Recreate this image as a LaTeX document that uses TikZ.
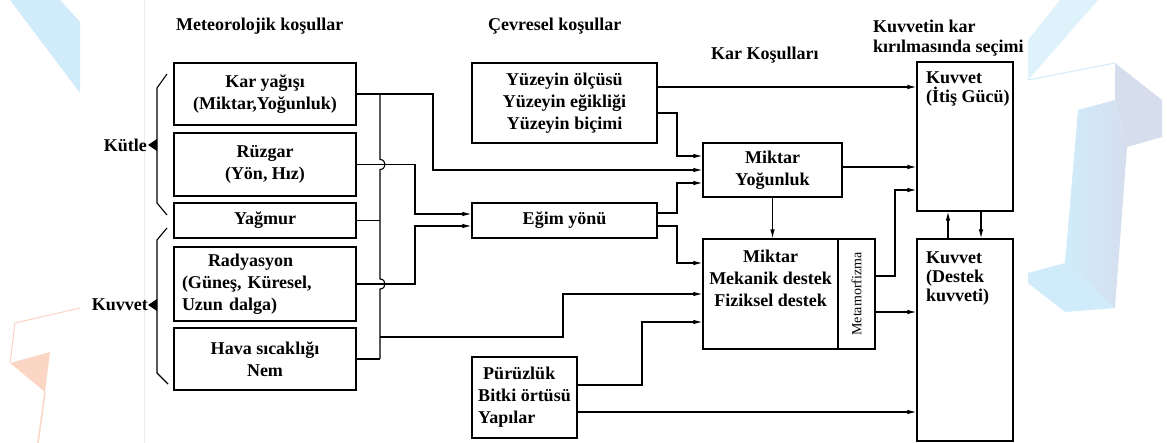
\documentclass[tikz,border=0pt]{standalone}
\usepackage{fontspec}
\usepackage{graphicx}
\setmainfont{Liberation Serif}
\usetikzlibrary{arrows.meta,calc}
\newcommand\bxfont{\fontsize{18}{22}\selectfont\bfseries}
\newcommand\ttlfont{\fontsize{18}{20}\selectfont\bfseries}
\newcommand\kvfont{\fontsize{18}{19}\selectfont\bfseries}
\newcommand\mtfont{\fontsize{14}{14}\selectfont}
\definecolor{wmblue}{RGB}{208,236,250}
\definecolor{wmgray}{RGB}{214,222,238}
\definecolor{wmorange}{RGB}{252,214,196}
\begin{document}
\begin{tikzpicture}[x=1pt,y=-1pt,
  box/.style={draw, line width=1.2pt, inner sep=0pt, font=\bxfont, align=center},
  ttl/.style={inner sep=0pt, font=\ttlfont, align=left},
  ln/.style={line width=1.1pt},
  arr/.style={ln, -{Latex[length=9pt,width=4.5pt]}},
]
\useasboundingbox (0,0) rectangle (1167,443);
\fill[white] (0,0) rectangle (1167,443);
% watermark
\fill[wmblue] (10,0) -- (60,0) -- (80,22) -- (80,93) -- cycle;
\fill[wmblue!70] (1028,40) -- (1060,0) -- (1098,0) -- (1028,80) -- cycle;
\fill[wmgray] (1115,63) -- (1162,100) -- (1162,137) -- (1127,147) -- (1115,100) -- cycle;
\shade[left color=wmblue, right color=wmgray] (1078,110) -- (1115,100) -- (1127,147) -- (1115,308) -- (1065,263) -- cycle;
\fill[wmblue] (1028,273) -- (1065,263) -- (1115,308) -- (1065,312) -- (1028,283) -- cycle;
\draw[wmblue, line width=1pt] (1028,80) -- (1115,63);
\draw[wmorange, line width=1pt] (80,308) -- (15,323) -- (10,363);
\fill[wmorange] (10,363) -- (50,352) -- (45,392) -- cycle;
\draw[wmorange, line width=1.5pt] (45,392) -- (38,443);
\draw[gray!15] (144,0) -- (144,443);

% titles
\node[ttl, anchor=west] (t1) at (176,26) {Meteorolojik koşullar};
\node[ttl, anchor=west] (t2) at (488,26) {Çevresel koşullar};
\node[ttl, anchor=west] (t3) at (711,55) {Kar Koşulları};
\node[ttl, anchor=west] (t4) at (873,38) {Kuvvetin kar\\kırılmasında seçimi};

% left boxes
\node[box, minimum width=182pt, minimum height=62pt] (kar) at (265,94) {Kar yağışı\\(Miktar,Yoğunluk)};
\node[box, minimum width=182pt, minimum height=63pt] (ruz) at (265,164.5) {Rüzgar\\(Yön, Hız)};
\node[box, minimum width=182pt, minimum height=35pt] (yag) at (265,220.5) {Yağmur};
\node[box, minimum width=182pt, minimum height=74pt, align=left, text width=166pt] (rad) at (265,284) {\hspace*{26pt}Radyasyon\\(Güneş, Küresel,\\Uzun dalga)};
\node[box, minimum width=182pt, minimum height=62pt] (hava) at (265,359) {Hava sıcaklığı\\Nem};

% middle boxes
\node[box, minimum width=185pt, minimum height=80pt] (yuz) at (564.5,103) {Yüzeyin ölçüsü\\Yüzeyin eğikliği\\Yüzeyin biçimi};
\node[box, minimum width=185pt, minimum height=35pt] (egim) at (564.5,220.5) {Eğim yönü};
\node[box, minimum width=105pt, minimum height=81pt, align=left] (pur) at (524.5,397.5) {\hspace*{5pt}Pürüzlük\\Bitki örtüsü\\Yapılar};

% snow condition boxes
\node[box, minimum width=139pt, minimum height=54pt] (my) at (772.5,170) {Miktar\\Yoğunluk};
\node[box, minimum width=135pt, minimum height=110pt] (mm) at (770.5,294) {};
\node[inner sep=0pt, font=\bxfont, align=center] (mmt) at (770.5,278) {Miktar\\Mekanik destek\\Fiziksel destek};
\node[box, minimum width=37pt, minimum height=110pt, font=\mtfont] (meta) at (856.5,294) {\rotatebox{90}{Metamorfizma}};

% force boxes
\node[box, minimum width=96pt, minimum height=149pt] (ki) at (965,136.5) {};
\node[inner sep=0pt, font=\kvfont, align=left, anchor=west] (kit) at (926,89) {Kuvvet\\(İtiş Gücü)};
\node[box, minimum width=96pt, minimum height=202pt] (kd) at (965,340) {};
\node[inner sep=0pt, font=\kvfont, align=left, anchor=west] (kdt) at (926,279) {Kuvvet\\(Destek\\kuvveti)};

% braces
\draw[ln] (167,74) -- (157,88) -- (157,203) -- (167,215);
\fill (157,139) -- (148,145) -- (157,151) -- cycle;
\node[ttl, anchor=east] (kutle) at (147,145) {Kütle};
\draw[ln] (167,228) -- (157,240) -- (157,373) -- (168,384);
\fill (157,299) -- (148,305) -- (157,311) -- cycle;
\node[ttl, anchor=east] (kuvvet) at (148,305) {Kuvvet};

% helper coordinates
\coordinate (bus) at (380,0);
\coordinate (c1) at (433,170);
\coordinate (b3) at (380,337);
\coordinate (c3) at (563,294);
\coordinate (c4) at (415,214);
\coordinate (c5) at (415,226);
\coordinate (y1) at (0,87);
\coordinate (y2) at (0,113);
\coordinate (c6) at (677,156);
\coordinate (e1) at (0,213);
\coordinate (c7) at (677,183);
\coordinate (e2) at (0,226);
\coordinate (c8) at (677,263);
\coordinate (m1) at (0,167);
\coordinate (t1c) at (0,276);
\coordinate (c11) at (895,190);
\coordinate (t2c) at (0,312);
\coordinate (p1) at (0,385);
\coordinate (c13) at (642,322);
\coordinate (p2) at (0,412);
\coordinate (v1) at (948,0);
\coordinate (v2) at (981,0);

% bus with hops
\draw[ln] (kar.east -| bus) -- (380,159.5) .. controls (386.7,159.5) and (386.7,169.5) .. (380,169.5)
  -- (380,279) .. controls (386.7,279) and (386.7,289) .. (380,289) -- (hava.east -| bus);
\draw[ln] (yag.east) -- (yag.east -| bus);
\draw[ln] (hava.east) -- (hava.east -| bus);

% connectors
\draw[arr] (kar.east) -| (c1) -- (my.west |- c1);
\draw[arr] (b3) -| (c3) -- (mm.west |- c3);
\draw[arr] (ruz.east) -| (c4) -- (egim.west |- c4);
\draw[arr] (rad.east) -| (c5) -- (egim.west |- c5);
\draw[arr] (yuz.east |- y1) -- (ki.west |- y1);
\draw[arr] (yuz.east |- y2) -| (c6) -- (my.west |- c6);
\draw[arr] (egim.east |- e1) -| (c7) -- (my.west |- c7);
\draw[arr] (egim.east |- e2) -| (c8) -- (mm.west |- c8);
\draw[arr] (my.south) -- (my.south |- mm.north);
\draw[arr] (my.east |- m1) -- (ki.west |- m1);
\draw[arr] (meta.east |- t1c) -| (c11) -- (ki.west |- c11);
\draw[arr] (meta.east |- t2c) -- (kd.west |- t2c);
\draw[arr] (pur.east |- p1) -| (c13) -- (mm.west |- c13);
\draw[arr] (pur.east |- p2) -- (kd.west |- p2);
\draw[arr] (kd.north -| v1) -- (ki.south -| v1);
\draw[arr] (ki.south -| v2) -- (kd.north -| v2);
\end{tikzpicture}
\end{document}
